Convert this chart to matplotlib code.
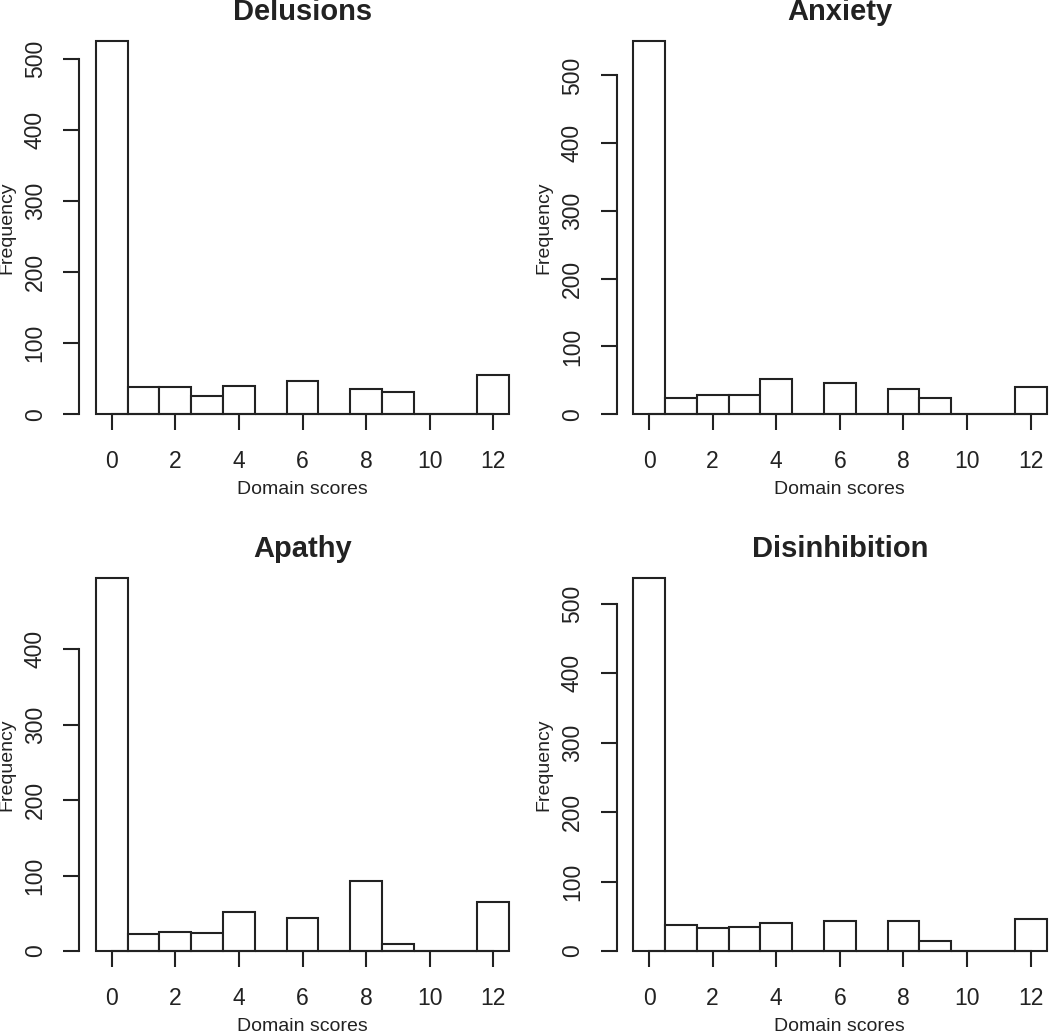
import matplotlib
matplotlib.use("Agg")
import matplotlib.pyplot as plt
import numpy as np

plt.rcParams['font.family'] = ['Liberation Sans', 'DejaVu Sans']

# scores 0..12, counts
scores = list(range(13))
delusions = [526, 38, 38, 26, 40, 0, 47, 0, 35, 32, 0, 0, 55]
anxiety = [551, 24, 29, 29, 52, 0, 46, 0, 37, 24, 0, 0, 40]
apathy = [495, 23, 25, 24, 52, 0, 44, 0, 93, 9, 0, 0, 65]
disinhibition = [538, 37, 33, 34, 40, 0, 44, 0, 44, 15, 0, 0, 46]

titles = ["Delusions", "Anxiety", "Apathy", "Disinhibition"]
xticks = [0, 2, 4, 6, 8, 10, 12]
yticks_top = [0, 100, 200, 300, 400, 500]
yticks_apathy = [0, 100, 200, 300, 400]

ink = "#222222"

fig = plt.figure(figsize=(10.5, 10.35), dpi=100)

# panel rectangles (left, bottom, width, height) in figure fractions
W, H = 1050.0, 1035.0
pw, ph = 446.5 / W, 403.3 / H
rects = [
    (79.3 / W, 1 - 429.2 / H, pw, ph),
    (616.6 / W, 1 - 429.2 / H, pw, ph),
    (79.3 / W, 1 - 966.0 / H, pw, ph),
    (616.6 / W, 1 - 966.0 / H, pw, ph),
]
panels = [
    (delusions, yticks_top),
    (anxiety, yticks_top),
    (apathy, yticks_apathy),
    (disinhibition, yticks_top),
]

for rect, title, (counts, yt) in zip(rects, titles, panels):
    ax = fig.add_axes(rect)
    ax.bar(scores, counts, width=1.0, facecolor="white", edgecolor=ink,
           linewidth=1.5, zorder=2)
    top = max(counts)
    ax.set_xlim(-0.5 - 0.04 * 13, 12.5 + 0.04 * 13)
    ax.set_ylim(-0.04 * top, 1.04 * top)

    for s in ["top", "right"]:
        ax.spines[s].set_visible(False)
    ax.spines["bottom"].set_position(("data", 0))
    ax.spines["bottom"].set_bounds(0, 12)
    ax.spines["left"].set_bounds(0, yt[-1])
    for s in ["bottom", "left"]:
        ax.spines[s].set_color(ink)
        ax.spines[s].set_linewidth(1.5)

    ax.set_xticks(xticks)
    ax.set_yticks(yt)
    ax.tick_params(axis="both", direction="out", length=11.5, width=1.5,
                   color=ink, labelcolor=ink, labelsize=16.5)
    ax.tick_params(axis="x", pad=14.5)
    ax.tick_params(axis="y", pad=12)
    plt.setp(ax.get_yticklabels(), rotation=90, va="center")

    ax.set_xlabel("Domain scores", fontsize=14, color=ink)
    ax.set_ylabel("Frequency", fontsize=14, color=ink)
    ax.xaxis.set_label_coords(0.5, -0.128)
    ax.yaxis.set_label_coords(-0.144, 0.5)
    ax.set_title(title, fontsize=21, fontweight="bold", color=ink, pad=2.5)

fig.savefig("out.png", dpi=100)
